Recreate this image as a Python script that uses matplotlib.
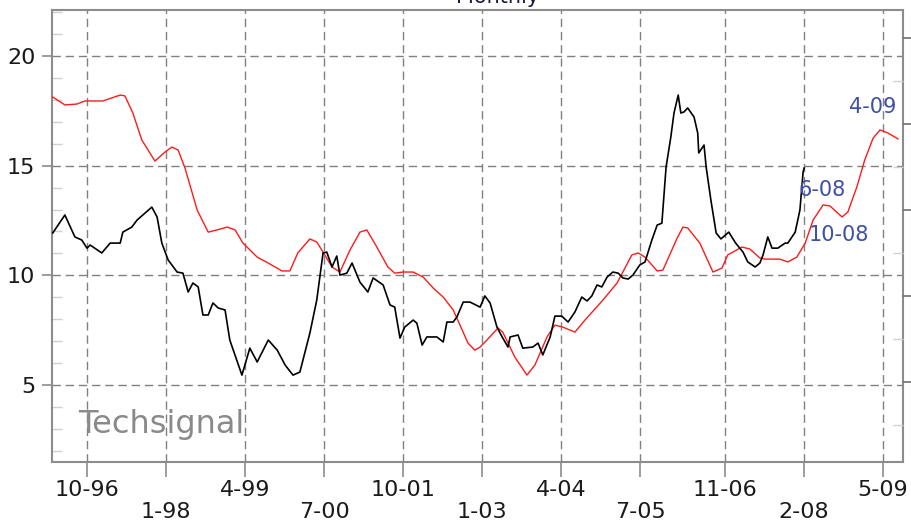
import matplotlib
matplotlib.use("Agg")
import matplotlib.pyplot as plt
from matplotlib.ticker import MultipleLocator, FixedLocator

# x = months since Jan 1996
black_m = [2.5, 4.8, 6.7, 8.0, 9.0, 9.6, 11.8, 13.4, 15.3, 15.8, 17.5, 18.5, 19.6, 21.3,
           22.3, 23.2, 24.4, 26.1, 27.2, 28.2, 29.1, 30.1, 31.0, 32.0, 32.9, 33.9, 35.2,
           36.1, 38.4, 39.9, 41.3, 43.4, 45.1, 46.6, 48.1, 49.4, 51.3, 52.6, 53.8, 54.5,
           55.5, 56.4, 57.0, 58.3, 59.3, 60.8, 62.3, 63.3, 65.2, 66.5, 67.4, 68.4, 69.3,
           70.9, 71.6, 72.6, 73.5, 75.4, 76.6, 77.3, 78.5, 79.2, 80.4, 81.7, 83.6, 84.5,
           85.5, 86.8, 87.9, 88.9, 89.3, 90.8, 91.7, 93.6, 94.6, 95.5, 96.9, 97.8, 99.1,
           100.3, 101.6, 102.9, 103.9, 104.8, 105.8, 106.7, 107.7, 108.8, 109.8, 110.7,
           111.7, 112.6, 113.9, 114.9, 116.2, 117.2, 118.1, 118.7, 118.9, 119.8, 120.4,
           121.2, 121.7, 122.3, 123.0, 124.2, 124.9, 125.1, 126.1, 126.5, 127.4, 127.8,
           128.4, 129.3, 130.8, 132.1, 133.5, 134.4, 135.8, 136.7, 137.3, 138.2, 139.0,
           140.1, 141.5, 142.0, 143.4, 144.3, 144.9, 145.1]
black_v = [11.93, 12.75, 11.75, 11.61, 11.24, 11.38, 11.02, 11.47, 11.47, 11.97, 12.20,
           12.52, 12.75, 13.11, 12.66, 11.47, 10.70, 10.15, 10.10, 9.24, 9.65, 9.47, 8.19,
           8.19, 8.74, 8.51, 8.42, 7.05, 5.45, 6.68, 6.05, 7.05, 6.59, 5.91, 5.45, 5.59,
           7.37, 8.87, 11.02, 11.06, 10.38, 10.88, 10.01, 10.10, 10.56, 9.69, 9.24, 9.88,
           9.56, 8.65, 8.55, 7.14, 7.64, 7.96, 7.82, 6.82, 7.19, 7.19, 6.96, 7.87, 7.87,
           8.10, 8.78, 8.78, 8.55, 9.06, 8.74, 7.64, 7.14, 6.73, 7.19, 7.28, 6.68, 6.73,
           6.91, 6.37, 7.19, 8.14, 8.14, 7.87, 8.33, 9.01, 8.83, 9.06, 9.56, 9.47, 9.92,
           10.15, 10.10, 9.88, 9.83, 10.01, 10.47, 10.61, 11.61, 12.29, 12.38, 14.35, 14.94,
           16.31, 17.40, 18.22, 17.40, 17.45, 17.63, 17.22, 16.49, 15.58, 15.94, 14.94,
           13.43, 12.84, 11.93, 11.66, 11.97, 11.47, 11.06, 10.61, 10.38, 10.56, 10.93,
           11.75, 11.24, 11.24, 11.47, 11.47, 11.97, 12.98, 14.71, 14.89]

red_m = [2.5, 4.8, 7.1, 8.6, 12.0, 15.3, 16.2, 17.7, 19.4, 21.9, 23.8, 25.1, 26.3, 27.6,
         29.9, 32.0, 33.7, 35.6, 37.1, 38.6, 41.3, 43.4, 46.0, 47.5, 49.0, 51.3, 52.6,
         53.8, 55.5, 57.0, 58.9, 60.8, 62.1, 64.0, 66.1, 67.4, 69.0, 70.9, 72.8, 74.7,
         76.6, 78.5, 80.2, 81.3, 82.6, 83.6, 84.9, 87.0, 87.9, 90.2, 92.5, 94.0, 96.3,
         97.8, 99.3, 101.6, 103.5, 106.9, 109.6, 112.4, 113.6, 114.9, 117.2, 118.3, 121.0,
         122.1, 123.0, 125.3, 127.8, 129.5, 130.6, 133.3, 134.8, 136.7, 137.7, 140.5,
         142.0, 143.7, 145.3, 146.8, 148.7, 150.0, 152.3, 153.4, 155.1, 156.6, 158.2,
         159.5, 161.0, 162.9]
red_v = [18.13, 17.77, 17.81, 17.95, 17.95, 18.22, 18.18, 17.40, 16.17, 15.21, 15.62,
         15.85, 15.71, 14.89, 12.98, 11.97, 12.07, 12.20, 12.07, 11.47, 10.83, 10.56,
         10.20, 10.20, 11.02, 11.66, 11.52, 11.06, 10.38, 10.15, 11.15, 11.97, 12.07,
         11.29, 10.38, 10.10, 10.15, 10.15, 9.92, 9.42, 9.01, 8.42, 7.51, 6.91, 6.59,
         6.73, 7.05, 7.60, 7.41, 6.27, 5.45, 5.91, 7.19, 7.73, 7.64, 7.41, 7.96, 8.87,
         9.65, 10.93, 11.02, 10.83, 10.20, 10.24, 11.70, 12.20, 12.16, 11.47, 10.15,
         10.33, 10.93, 11.29, 11.20, 10.79, 10.74, 10.74, 10.61, 10.83, 11.47, 12.52,
         13.21, 13.16, 12.66, 12.89, 14.03, 15.26, 16.26, 16.63, 16.49, 16.22]

tick_labels = ["10-96", "1-98", "4-99", "7-00", "10-01", "1-03", "4-04", "7-05",
               "11-06", "2-08", "5-09"]
y_ticks = [5, 10, 15, 20]

note_text = ["4-09", "6-08", "10-08"]
note_m = [158.1, 148.5, 151.6]
note_v = [17.67, 13.89, 11.84]


def label_to_month(lab):
    mo, yr = lab.split("-")
    yr = int(yr)
    yr = 1900 + yr if yr > 50 else 2000 + yr
    return (yr - 1996) * 12 + int(mo) - 1


plt.rcParams["font.family"] = "DejaVu Sans"
fig = plt.figure(figsize=(9.11, 5.29), dpi=100)
ax = fig.add_axes([0.0571, 0.1267, 0.934, 0.8545])

grid_col = "#808080"
spine_col = "#8c8c8c"

ax.plot(red_m, red_v, color="#ff1a1a", lw=1.0, zorder=3)
ax.plot(black_m, black_v, color="black", lw=1.2, zorder=4)

ax.set_xlim(2.36, 163.84)
ax.set_ylim(1.49, 22.10)

xt = [label_to_month(l) for l in tick_labels]
ax.set_xticks(xt)
ax.set_xticklabels([l if i % 2 == 0 else "\n" + l for i, l in enumerate(tick_labels)],
                   linespacing=1.1)
ax.set_yticks(y_ticks)
ax.yaxis.set_minor_locator(MultipleLocator(1))

ax.tick_params(axis="x", which="major", direction="out", length=11, width=1.2,
               color=spine_col, labelsize=16, labelcolor="#1a1a1a", pad=2)
ax.tick_params(axis="y", which="major", direction="out", length=7, width=1.2,
               color=spine_col, labelsize=16, labelcolor="#1a1a1a", pad=5)
ax.tick_params(axis="y", which="minor", direction="in", length=7, width=1,
               color="#d0d0d0")

for s in ax.spines.values():
    s.set_color(spine_col)
    s.set_linewidth(1.5)

ax.grid(True, which="major", color=grid_col, lw=1.0, linestyle=(0, (6, 3.5)))
ax.set_axisbelow(True)

# right side scale, ticks only
ax2 = ax.twinx()
ax2.set_ylim(-0.93, 4.326)
ax2.yaxis.set_major_locator(FixedLocator([0, 1, 2, 3, 4]))
ax2.yaxis.set_minor_locator(FixedLocator([0.5, 1.5, 2.5, 3.5, -0.5]))
ax2.tick_params(axis="y", which="major", direction="out", length=9, width=1.2,
                color="#707070", labelright=False)
ax2.tick_params(axis="y", which="minor", direction="in", length=7, width=1,
                color="#d0d0d0")
for s in ax2.spines.values():
    s.set_visible(False)

for t, m, v in zip(note_text, note_m, note_v):
    ax.text(m, v, t, color="#3d4fa6", fontsize=15, ha="center", va="center", zorder=5)

ax.text(0.0306, 0.064, "Techsignal", transform=ax.transAxes, fontsize=23,
        color="#8a8a8a", ha="left", va="baseline")

fig.text(0.546, 0.994, "Monthly", fontsize=15, color="#1a1a40", ha="center",
         va="baseline")

fig.savefig("out.png", dpi=100)
